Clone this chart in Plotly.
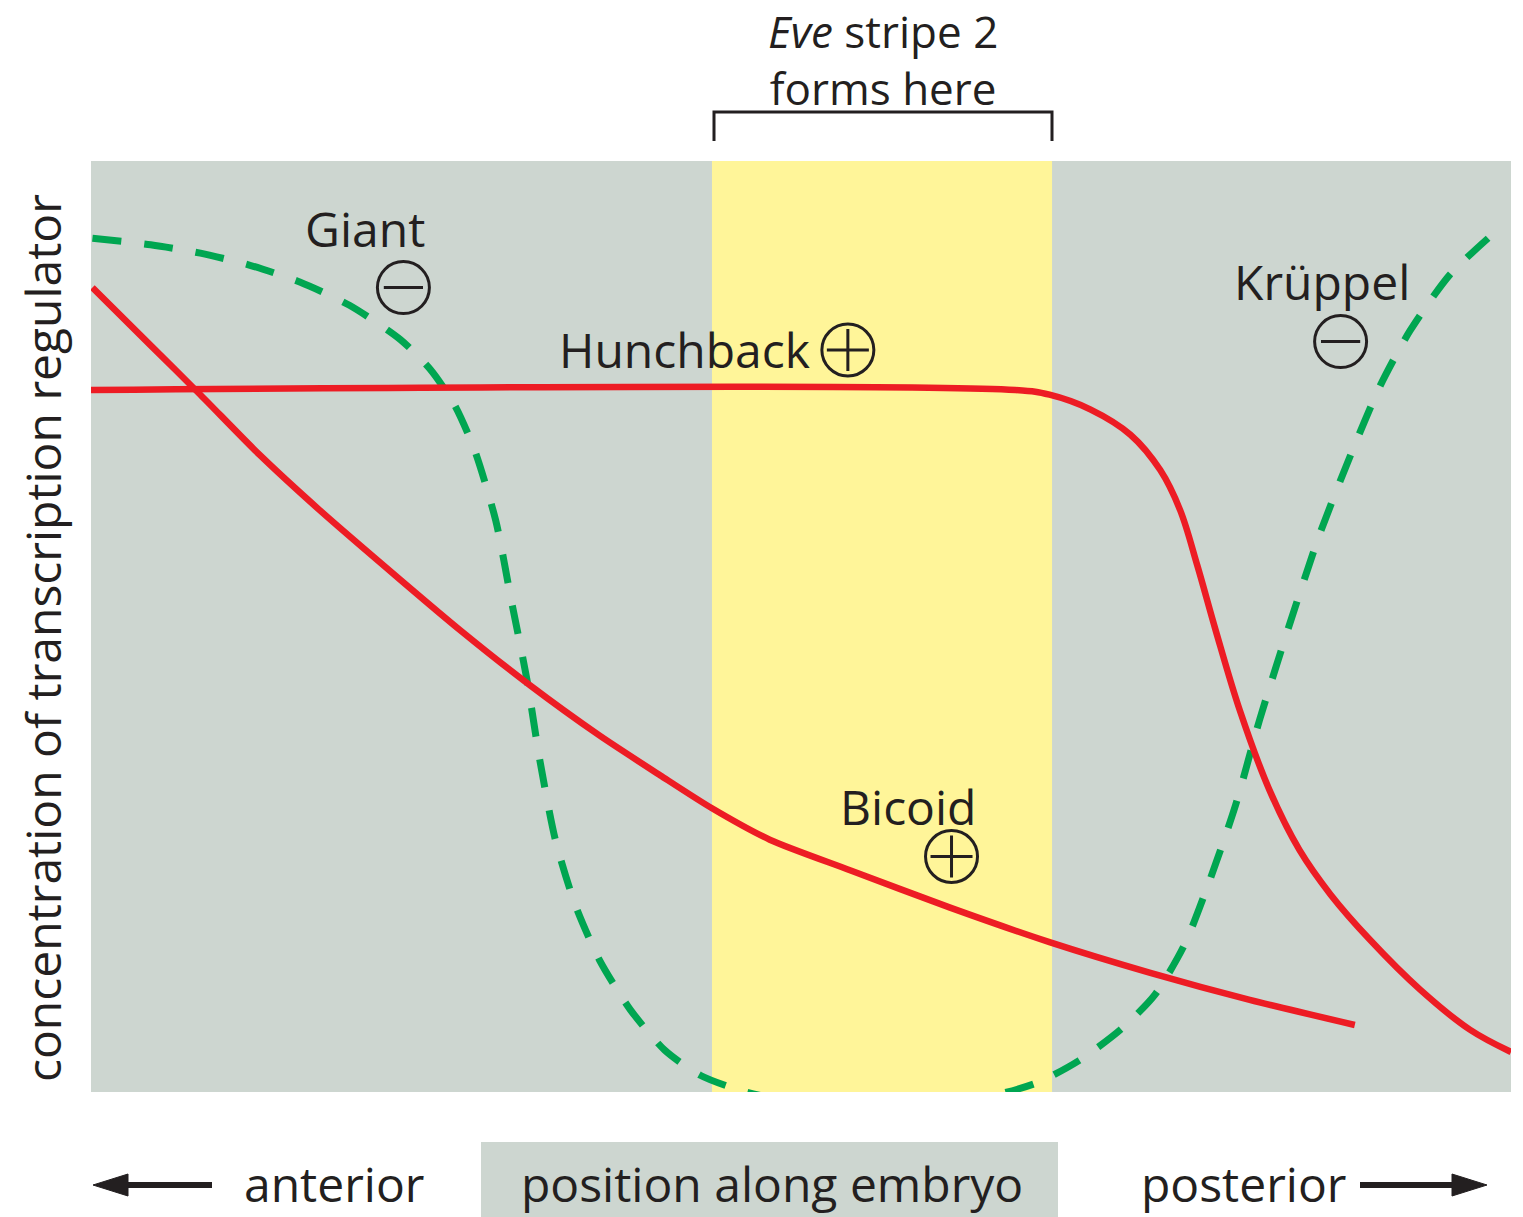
import plotly.graph_objects as go

# position along the embryo (0 = anterior, 100 = posterior), concentration 0-100
hunchback_x = [0, 65.1, 67.5, 70.4, 73.2, 75.3, 76.7, 77.9, 79.2, 80.9, 83.0, 85.1, 87.3, 90.1, 93.6, 97.1, 100]
hunchback_y = [75.4, 75.4, 74.9, 73.3, 70.6, 66.8, 62.5, 56.6, 49.6, 41.0, 32.4, 26.0, 21.2, 16.3, 11.0, 6.7, 4.3]

bicoid_x = [0.1, 4.2, 7.7, 11.9, 16.1, 21.8, 26.0, 30.9, 35.8, 40.1, 43.7, 47.8, 53.5, 60.5, 67.5, 74.6, 81.6, 89.0]
bicoid_y = [86.4, 80.2, 74.9, 68.4, 62.5, 55.0, 49.6, 43.7, 38.3, 34.0, 30.5, 27.1, 23.8, 19.8, 16.1, 12.8, 9.9, 7.2]

# Giant (anterior) + Kruppel (posterior) drawn as one dashed green curve
green_x = [0.1, 4.2, 7.7, 11.2, 14.7, 18.2, 21.8, 23.9, 25.6, 27.0, 28.5, 29.6, 30.7, 31.6, 32.7, 34.1, 35.8,
           38.0, 40.4, 42.9, 46.1, 49.9, 54.9, 59.8, 64.0, 66.8, 69.6, 72.5, 74.9, 77.0, 78.8, 80.6, 82.3,
           84.4, 86.5, 88.7, 90.8, 92.9, 95.7, 98.9]
green_y = [91.7, 91.0, 90.1, 88.8, 87.0, 84.5, 80.8, 77.6, 73.8, 69.0, 61.4, 52.8, 44.3, 35.7, 27.1, 20.1, 14.2,
           8.8, 4.5, 1.8, 0.0, -1.1, -1.5, -1.1, -0.2, 1.1, 3.4, 6.7, 10.4, 15.8, 22.8, 30.8, 40.0,
           50.2, 59.8, 68.4, 75.9, 81.8, 87.8, 92.4]

stripe_start, stripe_end = 43.73, 67.68

labels = ["Giant", "Krüppel", "Hunchback", "Bicoid"]
label_x = [19.3, 86.7, 41.8, 57.5]
label_y = [92.8, 87.1, 79.7, 30.7]

sign_x = [22.0, 88.0, 53.3, 60.6]
sign_y = [86.4, 80.6, 79.7, 25.3]
sign_kind = ["-", "-", "+", "+"]

RED = "#ED1C24"
GREEN = "#00A651"
GRAY = "#CDD6D0"
YELLOW = "#FFF599"
INK = "#231F20"
FONT = "Open Sans"

# pixel -> paper helpers for the decorations outside the plot area
L, R, T, B = 91, 1511, 161, 1092
def px(x):
    return (x - L) / (R - L)
def py(y):
    return (B - y) / (B - T)

fig = go.Figure()

fig.add_trace(go.Scatter(x=green_x, y=green_y, mode="lines",
                         line=dict(color=GREEN, width=7, dash="29px,23px", shape="spline", smoothing=0.7)))
fig.add_trace(go.Scatter(x=hunchback_x, y=hunchback_y, mode="lines",
                         line=dict(color=RED, width=6.5, shape="spline", smoothing=1.0)))
fig.add_trace(go.Scatter(x=bicoid_x, y=bicoid_y, mode="lines",
                         line=dict(color=RED, width=6.5, shape="spline", smoothing=0.7)))

# circled plus / minus signs
fig.add_trace(go.Scatter(x=sign_x, y=sign_y, mode="markers",
                         marker=dict(symbol="circle-open", size=52, color=INK, line=dict(width=3, color=INK))))
minus_x = [x for x, k in zip(sign_x, sign_kind) if k == "-"]
minus_y = [y for y, k in zip(sign_y, sign_kind) if k == "-"]
plus_x = [x for x, k in zip(sign_x, sign_kind) if k == "+"]
plus_y = [y for y, k in zip(sign_y, sign_kind) if k == "+"]
fig.add_trace(go.Scatter(x=minus_x, y=minus_y, mode="markers",
                         marker=dict(symbol="line-ew-open", size=28, color=INK, line=dict(width=3, color=INK))))
fig.add_trace(go.Scatter(x=plus_x, y=plus_y, mode="markers",
                         marker=dict(symbol="cross-thin-open", size=30, color=INK, line=dict(width=3, color=INK))))

for t, x, y in zip(labels, label_x, label_y):
    fig.add_annotation(x=x, y=y, text=t, showarrow=False, xanchor="center", yanchor="middle",
                       font=dict(size=48, color=INK, family=FONT))

# yellow stripe
fig.add_shape(type="rect", xref="x", yref="paper", x0=stripe_start, x1=stripe_end, y0=0, y1=1,
              fillcolor=YELLOW, line_width=0, layer="below")

# bracket over the stripe
fig.add_shape(type="path", xref="paper", yref="paper",
              path=f"M {px(714)} {py(141)} L {px(714)} {py(112)} L {px(1052)} {py(112)} L {px(1052)} {py(141)}",
              line=dict(color=INK, width=3))
fig.add_annotation(xref="paper", yref="paper", x=px(883), y=py(60), text="<i>Eve</i> stripe 2<br>forms here",
                   showarrow=False, xanchor="center", yanchor="middle",
                   font=dict(size=44, color=INK, family=FONT))

# x label box and arrows
fig.add_shape(type="rect", xref="paper", yref="paper", x0=px(481), x1=px(1058), y0=py(1142), y1=py(1217),
              fillcolor=GRAY, line_width=0)
fig.add_shape(type="line", xref="paper", yref="paper", x0=px(212), x1=px(118), y0=py(1185), y1=py(1185),
              line=dict(color=INK, width=6))
fig.add_shape(type="path", xref="paper", yref="paper",
              path=f"M {px(93)} {py(1185)} L {px(128)} {py(1174)} L {px(128)} {py(1196)} Z",
              fillcolor=INK, line=dict(color=INK, width=1))
fig.add_shape(type="line", xref="paper", yref="paper", x0=px(1360), x1=px(1460), y0=py(1185), y1=py(1185),
              line=dict(color=INK, width=6))
fig.add_shape(type="path", xref="paper", yref="paper",
              path=f"M {px(1487)} {py(1185)} L {px(1452)} {py(1174)} L {px(1452)} {py(1196)} Z",
              fillcolor=INK, line=dict(color=INK, width=1))

for t, x in [("anterior", 334), ("position along embryo", 772), ("posterior", 1243)]:
    fig.add_annotation(xref="paper", yref="paper", x=px(x), y=py(1183), text=t, showarrow=False,
                       xanchor="center", yanchor="middle",
                       font=dict(size=48, color=INK, family=FONT))

fig.add_annotation(xref="paper", yref="paper", x=px(42), y=py(638), text="concentration of transcription regulator",
                   textangle=-90, showarrow=False, xanchor="center", yanchor="middle",
                   font=dict(size=48, color=INK, family=FONT))

fig.update_xaxes(range=[0, 100], visible=False)
fig.update_yaxes(range=[0, 100], visible=False)
fig.update_layout(
    width=1523, height=1217,
    margin=dict(l=L, r=1523 - R, t=T, b=1217 - B),
    plot_bgcolor=GRAY, paper_bgcolor="white",
    showlegend=False,
)

# drop the browser's default body margin so the figure sits at the page corner
fig.write_html("out.html", config={"displayModeBar": False},
               post_script="document.body.style.margin='0';")
